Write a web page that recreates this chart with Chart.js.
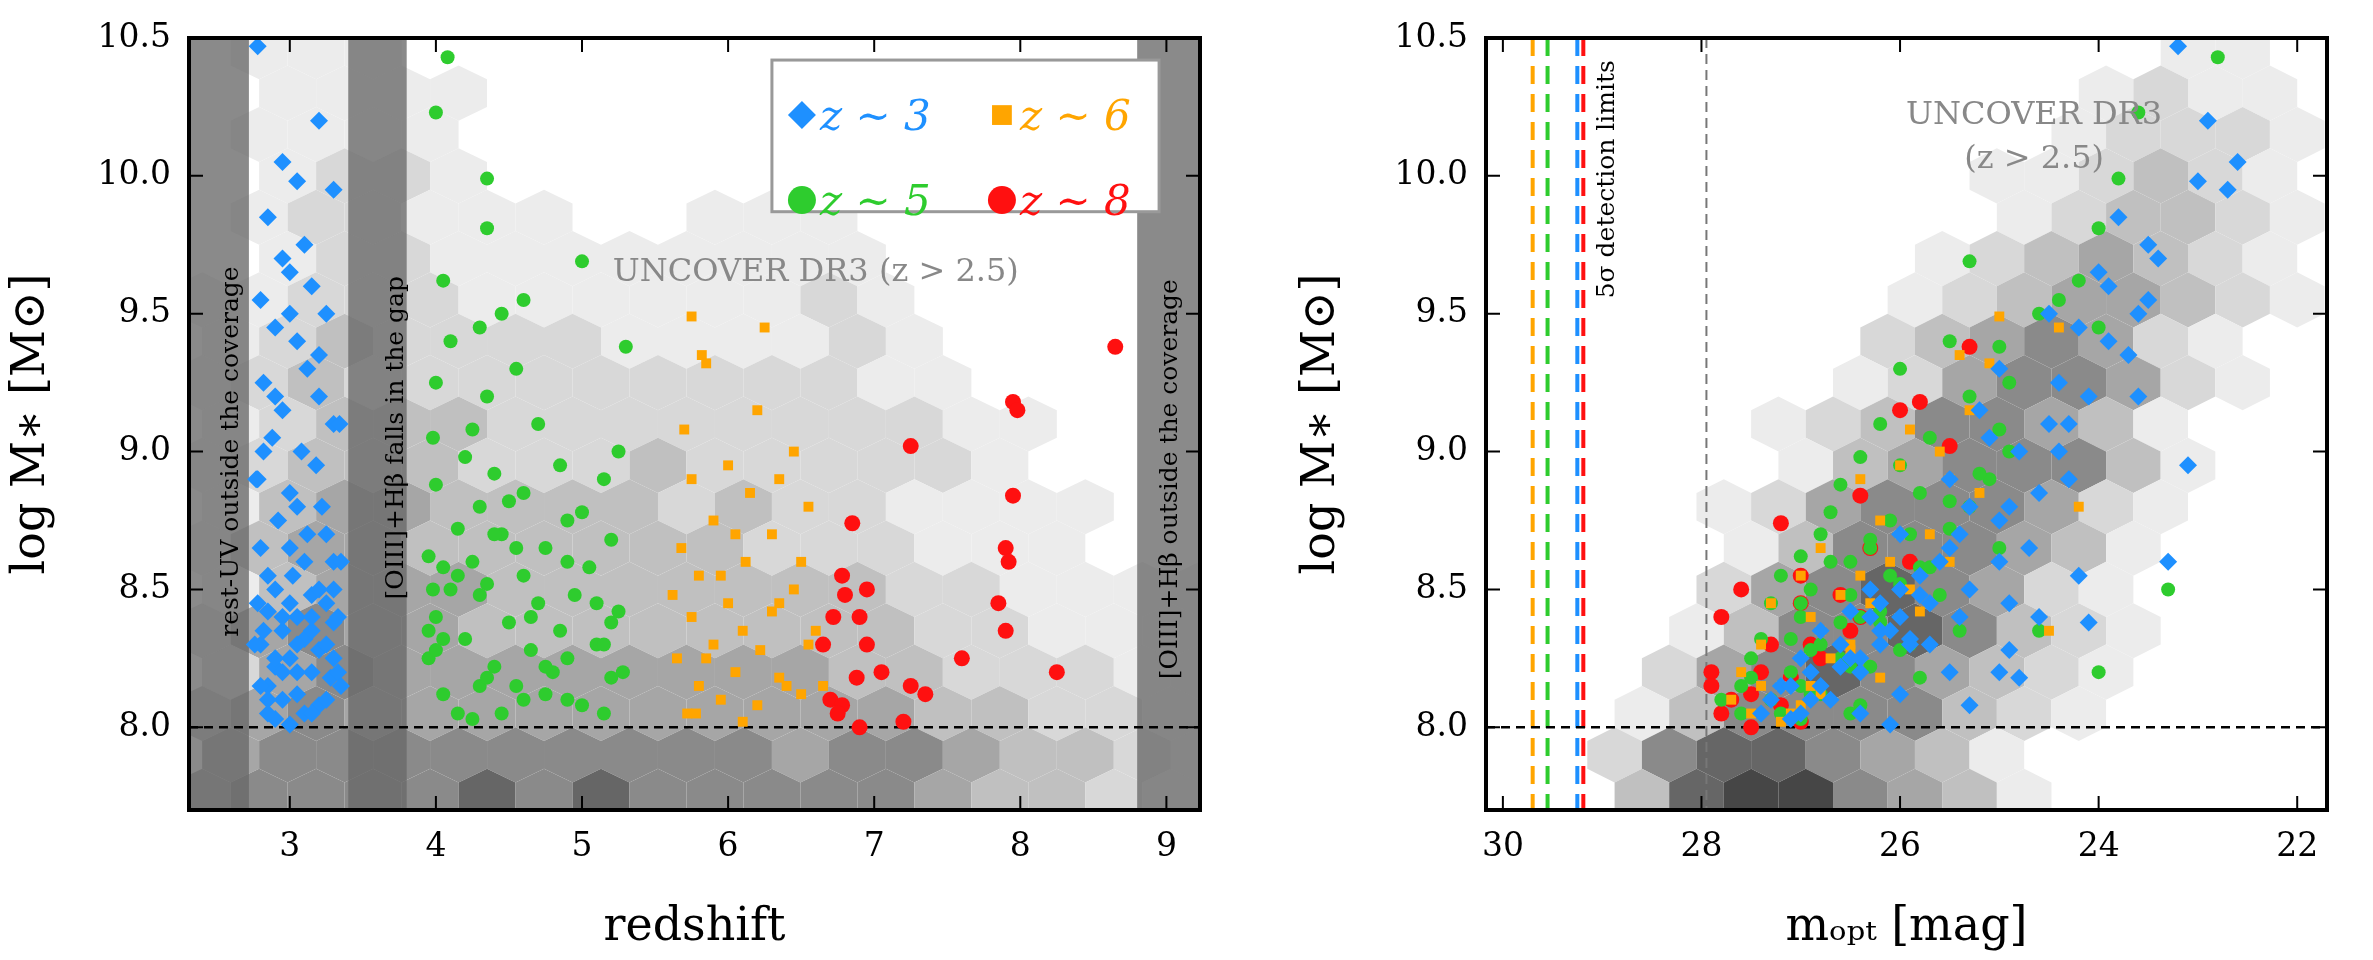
<!DOCTYPE html>
<html><head><meta charset="utf-8">
<script src="https://cdn.jsdelivr.net/npm/chart.js@4"></script>
<style>body{margin:0;background:#fff;width:2373px;height:960px;overflow:hidden}
canvas{position:absolute;top:0}</style></head><body>
<canvas id="c1" style="left:0" width="1230" height="960"></canvas>
<canvas id="c2" style="left:1290px" width="1083" height="960"></canvas>
<script>
// ---------- data ----------
const blueMass=[10.47,10.2,10.05,9.98,9.95,9.85,9.75,9.65,9.6,9.55,9.5,9.45,9.4,9.3,9.25,9.2,9.15,9.1,9.05,9.0,8.95,8.9,8.85,8.8,8.75,8.7,8.65,8.6,8.55,8.5,8.48,8.45,8.42,8.4,8.38,8.35,8.32,8.3,8.28,8.25,8.22,8.2,8.18,8.15,8.12,8.1,8.08,8.05,8.03,8.01,8.6,8.4,8.3,8.2,8.9,9.1,
 8.05,8.1,8.15,8.2,8.25,8.3,8.35,8.4,8.45,8.5,8.55,8.6,8.1,8.2,8.3,8.4,8.5,8.15,8.25,8.35,8.7,8.8,9.0,9.2,9.35,9.5,9.7,8.05,8.45,8.65];
const blueZ=[2.78,3.2,2.95,3.05,3.3,2.85,3.1,3.0,3.15,2.8,3.25,2.9,3.05,3.12,2.82,3.2,2.95,3.3,2.88,3.08,3.18,2.78,3.0,3.22,2.92,3.12,2.8,3.3,3.02,2.9,3.15,3.25,2.85,3.05,3.3,2.95,3.1,2.8,3.2,3.0,2.9,3.15,3.28,2.85,3.05,2.95,3.2,3.1,2.9,3.0,3.35,3.33,2.76,3.33,2.77,3.34,
 3.15,3.25,2.8,3.05,2.9,3.25,3.15,2.95,3.0,3.3,2.85,3.1,2.85,2.95,3.05,3.15,3.2,3.35,3.3,2.82,3.25,3.05,2.82,2.9,3.2,3.0,2.95,2.85,2.78,3.0];
const blueMag=[23.2,22.9,22.6,23.0,22.7,23.8,23.5,24.0,23.9,23.5,24.5,24.2,23.9,25.0,24.4,23.6,25.2,24.3,25.1,24.8,23.1,25.5,24.6,25.3,25.0,26.0,24.7,25.6,24.2,26.3,25.8,24.9,26.5,25.4,24.1,26.8,25.9,26.2,24.9,27.0,26.6,25.5,24.8,27.2,26.0,26.9,25.3,26.4,27.1,26.1,23.3,24.6,25.7,25.0,24.3,24.5,
 27.0,26.7,27.1,26.4,26.5,25.9,26.2,26.0,25.7,25.3,25.8,25.0,27.3,26.9,26.6,26.3,26.0,26.8,26.4,26.1,25.4,24.9,24.4,24.1,23.7,23.6,23.4,27.4,26.2,25.5];
const greenMass=[10.43,10.23,9.99,9.81,9.69,9.62,9.55,9.5,9.45,9.4,9.38,9.3,9.25,9.2,9.1,9.05,9.0,8.98,8.95,8.9,8.88,8.85,8.8,8.78,8.75,8.72,8.7,8.68,8.65,8.62,8.6,8.58,8.55,8.52,8.5,8.48,8.45,8.42,8.4,8.38,8.35,8.32,8.3,8.28,8.25,8.22,8.2,8.18,8.15,8.12,8.1,8.08,8.05,8.03,8.5,8.35,8.2,8.1,8.65,8.3,
 8.05,8.12,8.18,8.25,8.32,8.4,8.45,8.55,8.6,8.7,8.05,8.15,8.22,8.28,8.38,8.48,8.58,8.82,8.92,9.08];
const greenZ=[4.08,4.0,4.35,4.35,5.0,4.05,4.6,4.45,4.3,4.1,5.3,4.55,4.0,4.35,4.7,3.98,5.25,4.2,4.85,5.15,4.0,4.6,4.3,5.0,4.9,4.15,4.45,5.2,4.75,3.95,4.25,5.05,4.6,4.35,4.1,4.95,4.7,5.25,4.0,4.5,4.85,4.2,5.1,4.65,3.95,4.4,4.8,5.2,4.3,4.05,4.6,5.0,4.45,4.25,3.98,3.95,5.28,4.9,4.55,5.15,
 4.15,4.75,4.35,4.9,4.05,4.65,5.1,4.15,4.9,4.4,5.15,4.55,4.75,4.0,5.2,4.3,4.05,4.5,4.4,4.25];
const greenMag=[22.8,23.6,23.8,24.0,25.3,24.2,24.4,24.6,24.0,25.5,25.0,26.0,24.9,25.3,26.2,25.7,24.9,26.4,26.0,25.1,26.6,25.8,25.3,26.7,26.1,25.5,26.8,26.3,25.0,27.0,26.5,25.8,27.2,26.0,26.9,25.6,27.3,26.2,27.0,26.6,25.4,27.4,26.8,26.0,27.5,26.5,27.1,25.8,27.6,26.9,27.3,26.4,27.6,27.0,23.3,24.6,24.0,27.8,26.3,25.9,
 27.2,26.8,27.5,26.6,27.1,26.4,27.0,26.1,26.7,25.9,26.5,27.0,26.3,26.9,26.2,26.5,25.7,25.5,25.2,25.0];
const orangeMass=[9.49,9.45,9.35,9.32,9.15,9.08,9.0,8.95,8.9,8.85,8.8,8.75,8.7,8.65,8.6,8.55,8.5,8.48,8.45,8.42,8.4,8.35,8.3,8.28,8.25,8.2,8.18,8.15,8.12,8.1,8.08,8.05,8.02,8.6,8.3,8.15,8.05,8.15,8.25,8.35,8.45,8.55,8.7,8.9];
const orangeZ=[5.75,6.25,5.82,5.85,6.2,5.7,6.45,6.0,5.75,6.15,6.55,5.9,6.3,5.68,6.12,5.8,6.45,5.62,6.0,6.3,5.75,6.6,5.9,6.22,5.65,6.05,6.35,5.8,6.5,5.95,6.2,5.72,6.1,6.5,6.55,6.65,5.78,6.4,5.85,6.1,6.35,5.95,6.05,6.35];
const orangeMag=[25.0,24.4,25.4,25.1,25.3,25.9,25.6,26.0,26.4,25.2,24.2,26.2,25.7,26.8,26.1,27.0,25.9,26.6,27.3,25.8,26.9,24.5,27.4,26.5,27.0,27.6,26.2,27.2,26.8,27.7,27.0,27.5,27.2,25.5,26.5,27.4,27.1,26.9,26.7,26.8,26.3,26.4,26.0,25.5];
const redMass=[9.38,9.18,9.15,9.02,8.84,8.74,8.65,8.6,8.55,8.5,8.48,8.45,8.4,8.35,8.3,8.25,8.2,8.18,8.12,8.1,8.08,8.05,8.02,8.0,8.3,8.2,8.15,8.4];
const redZ=[8.65,7.95,7.98,7.25,7.95,6.85,7.9,7.92,6.78,6.95,6.8,7.85,6.72,7.9,6.95,7.6,8.25,6.88,7.35,6.7,6.78,6.75,7.2,6.9,6.65,7.05,7.25,6.9];
const redMag=[25.3,25.8,26.0,25.5,26.4,27.2,26.3,25.9,27.0,27.6,26.6,27.0,27.8,26.5,27.3,26.8,27.9,27.1,27.5,27.7,27.2,27.8,27.0,27.5,26.9,27.4,27.9,26.4];
const yTicks=[8.0,8.5,9.0,9.5,10.0,10.5];
const zTicks=[3,4,5,6,7,8,9];
const magTicks=[30,28,26,24,22];
const hexRowsY=[10.45,10.30,10.15,10.00,9.85,9.70,9.55,9.40,9.25,9.10,8.95,8.80,8.65,8.50,8.35,8.20,8.05,7.90,7.75];
const hexColsZ=[2.4,2.79,3.18,3.57,3.96,4.35,4.74,5.13,5.52,5.91,6.30,6.69,7.08,7.47,7.86,8.25,8.64,9.03];
const hexLevelsZ=["011100000000000000","011110000000000000","011110000001000000","012210000011000000","012211100111000000","012211111111000000","112221111112100000","123222211112100000","123222222222110000","123332222222211000","123332223222221000","134433332322111100","134433333322211100","134443333333221111","245443333333322111","245444444443322211","345444444444433221","455555555545543321","455556565555543321"];
const hexColsM=[28.6,28.05,27.5,26.95,26.4,25.85,25.3,24.75,24.2,23.65,23.1,22.55,22.0];
const hexLevelsM=["0000000000110","0000000001211","0000000012221","0000000112321","0000000123321","0000001234321","0000012344321","0000023454210","0000124554210","0001235543100","0001345553100","0012455542100","0013555431000","0024565421000","0135565321000","0245654321000","1355553210000","2566543100000","3677543100000"];
const bandsZ=[[2.31,2.72],[3.4,3.8],[8.8,9.23]];
const bandTexts=["rest-UV outside the coverage","[OIII]+Hβ falls in the gap","[OIII]+Hβ outside the coverage"];
const limitLines=[{x:29.7,c:['#FFA500']},{x:29.55,c:['#2ECC2E']},{x:29.22,c:['#1E90FF','#FF1010']}];
// ---------- helpers ----------
const greys=['', '#ececec','#d8d8d8','#c0c0c0','#a6a6a6','#8a8a8a','#666666','#464646'];
const serif="'DejaVu Serif', serif";
const pts=(xs,ys)=>xs.map((x,i)=>({x:x,y:ys[i]}));
function hexPlugin(cols,levels,rowStep,colStep){return {id:'hex',beforeDatasetsDraw(ch){
 const {ctx,chartArea:a,scales:{x,y}}=ch;ctx.save();ctx.beginPath();ctx.rect(a.left,a.top,a.width,a.height);ctx.clip();
 const h=rowStep/0.75/2;
 levels.forEach((row,ri)=>{const yc=hexRowsY[ri];const off=(ri%2)?colStep/2:0;
  for(let ci=0;ci<row.length;ci++){const l=+row[ci];if(!l)continue;const xc=cols[ci]+off;
   ctx.beginPath();
   const v=[[0,h],[colStep/2,h/2],[colStep/2,-h/2],[0,-h],[-colStep/2,-h/2],[-colStep/2,h/2]];
   v.forEach((p,k)=>{const px=x.getPixelForValue(xc+p[0]),py=y.getPixelForValue(yc+p[1]);k?ctx.lineTo(px,py):ctx.moveTo(px,py);});
   ctx.closePath();ctx.fillStyle=greys[l];ctx.fill();}});
 ctx.restore();}};}
function hline(ch){const {ctx,chartArea:a,scales:{y}}=ch;const py=y.getPixelForValue(8.0);
 ctx.save();ctx.setLineDash([9,6]);ctx.lineWidth=2.5;ctx.strokeStyle='#000';ctx.beginPath();ctx.moveTo(a.left,py);ctx.lineTo(a.right,py);ctx.stroke();ctx.restore();}
function frame(ch,xTicksArr){const {ctx,chartArea:a,scales:{x,y}}=ch;ctx.save();ctx.strokeStyle='#000';ctx.lineWidth=4;
 ctx.strokeRect(a.left,a.top,a.width,a.height);ctx.lineWidth=2;
 xTicksArr.forEach(t=>{const px=x.getPixelForValue(t);ctx.beginPath();ctx.moveTo(px,a.bottom);ctx.lineTo(px,a.bottom-14);ctx.moveTo(px,a.top);ctx.lineTo(px,a.top+14);ctx.stroke();});
 yTicks.forEach(t=>{const py=y.getPixelForValue(t);ctx.beginPath();ctx.moveTo(a.left,py);ctx.lineTo(a.left+14,py);ctx.moveTo(a.right,py);ctx.lineTo(a.right-14,py);ctx.stroke();});
 ctx.restore();}
function scales(xmin,xmax,xt,reverse,title,yw,xh){return {
 x:{type:'linear',min:xmin,max:xmax,reverse:reverse,grid:{display:false},border:{display:false},
  afterBuildTicks:s=>{s.ticks=xt.map(v=>({value:v}));},afterFit:s=>{s.height=xh;},
  ticks:{font:{family:serif,size:33},color:'#000',padding:10},title:{display:true,text:title,font:{family:serif,size:46},color:'#000',padding:{top:6}}},
 y:{type:'linear',min:7.7,max:10.5,grid:{display:false},border:{display:false},
  afterBuildTicks:s=>{s.ticks=yTicks.map(v=>({value:v}));},afterFit:s=>{s.width=yw;},
  ticks:{font:{family:serif,size:33},color:'#000',padding:10,callback:v=>v.toFixed(1)},
  title:{display:true,text:'log M∗ [M⊙]',font:{family:serif,size:46},color:'#000'}}};}
function ds(label,data,color,style,r){return {label,data,backgroundColor:color,borderColor:color,pointStyle:style,pointRadius:r,borderWidth:0};}
// ---------- left chart ----------
new Chart(document.getElementById('c1'),{type:'scatter',
 data:{datasets:[ds('z~3',pts(blueZ,blueMass),'#1E90FF','rectRot',9),ds('z~5',pts(greenZ,greenMass),'#2ECC2E','circle',7),
  ds('z~6',pts(orangeZ,orangeMass),'#FFA500','rect',7),ds('z~8',pts(redZ,redMass),'#FF1010','circle',8)]},
 options:{responsive:false,animation:false,layout:{padding:{top:38,right:30,left:0,bottom:0}},
  plugins:{legend:{display:false},tooltip:{enabled:false}},
  scales:scales(2.31,9.23,zTicks,false,'redshift',189,150)},
 plugins:[hexPlugin(hexColsZ,hexLevelsZ,0.15,0.39),{id:'deco',beforeDatasetsDraw(ch){
   const {ctx,chartArea:a,scales:{x,y}}=ch;ctx.save();
   bandsZ.forEach((b,i)=>{const x0=x.getPixelForValue(b[0]),x1=x.getPixelForValue(b[1]);
    ctx.fillStyle='rgba(105,105,105,0.78)';ctx.fillRect(x0,a.top,x1-x0,a.height);});
   ctx.restore();hline(ch);},
  afterDatasetsDraw(ch){const {ctx,chartArea:a,scales:{x,y}}=ch;ctx.save();
   ctx.font="25px "+serif;ctx.fillStyle='#000';ctx.textAlign='center';ctx.textBaseline='middle';
   [[2.6,9.0],[3.73,9.05],[9.03,8.9]].forEach((p,i)=>{ctx.save();ctx.translate(x.getPixelForValue(p[0]),y.getPixelForValue(p[1]));ctx.rotate(-Math.PI/2);ctx.fillText(bandTexts[i],0,0);ctx.restore();});
   ctx.fillStyle='#888';ctx.font="32px "+serif;ctx.fillText('UNCOVER DR3 (z > 2.5)',x.getPixelForValue(6.6),y.getPixelForValue(9.65));
   // legend
   const lx=x.getPixelForValue(6.3),ly=y.getPixelForValue(10.42),rx=x.getPixelForValue(8.95),by=y.getPixelForValue(9.87);
   ctx.fillStyle='#fff';ctx.fillRect(lx,ly,rx-lx,by-ly);ctx.strokeStyle='#999';ctx.lineWidth=3;ctx.strokeRect(lx,ly,rx-lx,by-ly);
   const items=[['z ∼ 3','#1E90FF','rectRot',0,0],['z ∼ 6','#FFA500','rect',1,0],['z ∼ 5','#2ECC2E','circle',0,1],['z ∼ 8','#FF1010','circle',1,1]];
   ctx.font="italic 42px "+serif;ctx.textAlign='left';
   items.forEach(it=>{const px=lx+30+it[3]*200,py=ly+55+it[4]*85;
    ctx.fillStyle=it[1];ctx.strokeStyle=it[1];
    Chart.helpers.drawPoint(ctx,{pointStyle:it[2],radius:14,borderWidth:0},px,py);
    ctx.fillStyle=it[1];ctx.fillText(it[0],px+18,py+4);});
   ctx.restore();frame(ch,zTicks);}}]});
// ---------- right chart ----------
new Chart(document.getElementById('c2'),{type:'scatter',
 data:{datasets:[ds('z~3',pts(blueMag,blueMass),'#1E90FF','rectRot',9),ds('z~6',pts(orangeMag,orangeMass),'#FFA500','rect',7),
  ds('z~5',pts(greenMag,greenMass),'#2ECC2E','circle',7),ds('z~8',pts(redMag,redMass),'#FF1010','circle',8)]},
 options:{responsive:false,animation:false,layout:{padding:{top:38,right:46,left:0,bottom:0}},
  plugins:{legend:{display:false},tooltip:{enabled:false}},
  scales:scales(30.17,21.7,magTicks,true,'mₒₚₜ [mag]',196,150)},
 plugins:[hexPlugin(hexColsM,hexLevelsM,0.15,0.55),{id:'deco2',beforeDatasetsDraw(ch){
   const {ctx,chartArea:a,scales:{x,y}}=ch;ctx.save();
   let px=x.getPixelForValue(27.95);ctx.setLineDash([10,6]);ctx.strokeStyle='#777';ctx.lineWidth=2;
   ctx.beginPath();ctx.moveTo(px,a.top);ctx.lineTo(px,a.bottom);ctx.stroke();
   limitLines.forEach(l=>{const p=x.getPixelForValue(l.x);ctx.lineWidth=4;ctx.setLineDash([18,10]);
    l.c.forEach((c,i)=>{ctx.strokeStyle=c;ctx.beginPath();ctx.moveTo(p+(l.c.length>1?(i?3:-3):0),a.top);ctx.lineTo(p+(l.c.length>1?(i?3:-3):0),a.bottom);ctx.stroke();});});
   ctx.restore();hline(ch);},
  afterDatasetsDraw(ch){const {ctx,chartArea:a,scales:{x,y}}=ch;ctx.save();
   ctx.fillStyle='#000';ctx.font="25px "+serif;ctx.textAlign='right';ctx.textBaseline='middle';
   ctx.translate(x.getPixelForValue(28.95),y.getPixelForValue(10.42));ctx.rotate(-Math.PI/2);ctx.fillText('5σ detection limits',0,0);ctx.restore();
   ctx.save();ctx.fillStyle='#888';ctx.font="32px "+serif;ctx.textAlign='center';ctx.textBaseline='middle';
   ctx.fillText('UNCOVER DR3',x.getPixelForValue(24.65),y.getPixelForValue(10.22));
   ctx.fillText('(z > 2.5)',x.getPixelForValue(24.65),y.getPixelForValue(10.06));
   ctx.restore();frame(ch,magTicks);}}]});
</script></body></html>
